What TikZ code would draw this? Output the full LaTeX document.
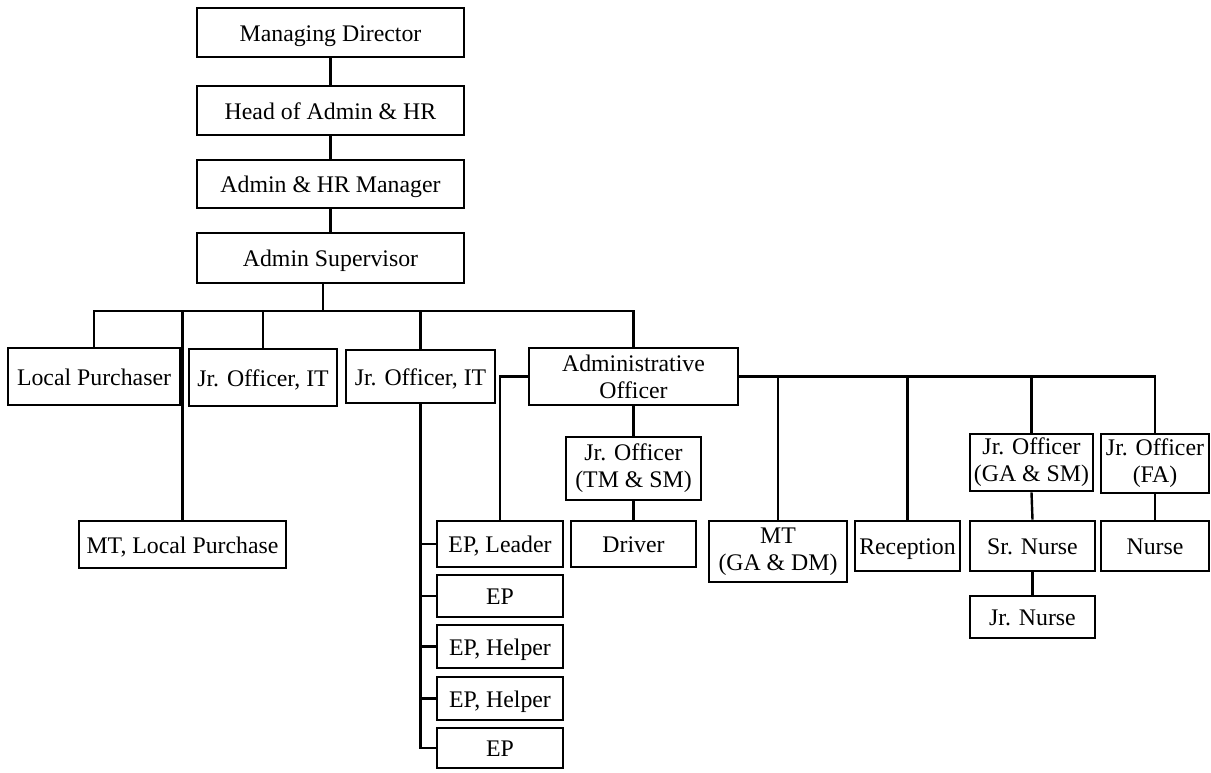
\documentclass[tikz,border=0pt]{standalone}
\usepackage{fontspec}
\setmainfont{Liberation Serif}
\begin{document}
\begin{tikzpicture}[x=1pt,y=-1pt,
  boxbase/.style={draw, line width=2.6pt, inner sep=0pt,
    font=\fontsize{23.8}{27}\selectfont},
  box/.style={boxbase, text height=19pt, text depth=2pt},
  box2/.style={boxbase, align=center},
  link/.style={line width=2.4pt}]
\useasboundingbox (0,0) rectangle (1211,772);

% top chain
\node[box, minimum width=267, minimum height=49] (md)   at (330.5,32.5) {Managing Director};
\node[box, minimum width=267, minimum height=49] (head) at (330.5,110.5) {Head of Admin \& HR};
\node[box, minimum width=267, minimum height=48] (mgr)  at (330.5,184) {Admin \& HR Manager};
\node[box, minimum width=267, minimum height=50] (sup)  at (330.5,258) {Admin Supervisor};

% second level
\node[box, minimum width=172, minimum height=57] (lp)  at (94,376.5) {Local Purchaser};
\node[box, minimum width=148, minimum height=57] (it1) at (263,377.5) {Jr. Officer, IT};
\node[box, minimum width=149, minimum height=53] (it2) at (420.5,376.5) {Jr. Officer, IT};
\node[box2, minimum width=209, minimum height=57] (ao)  at (633.5,376.5) {Administrative\\Officer};
\node[box, minimum width=207, minimum height=47] (mtlp) at (182.5,544.5) {MT, Local Purchase};

% EP column
\node[box, minimum width=126, minimum height=46] (epl)  at (500,544) {EP, Leader};
\node[box, minimum width=126, minimum height=42] (ep1)  at (500,596) {EP};
\node[box, minimum width=126, minimum height=43] (eph1) at (500,646.5) {EP, Helper};
\node[box, minimum width=126, minimum height=43] (eph2) at (500,698.5) {EP, Helper};
\node[box, minimum width=126, minimum height=40] (ep2)  at (500,748) {EP};

% administrative officer branch
\node[box2, minimum width=135, minimum height=63] (tmsm)  at (633.5,468.5) {Jr. Officer\\(TM \& SM)};
\node[box, minimum width=125, minimum height=46] (drv)   at (633.5,544) {Driver};
\node[box2, minimum width=138, minimum height=61] (mtga)  at (778,551.5) {MT\\(GA \& DM)};
\node[box, minimum width=105, minimum height=50] (rec)   at (907.5,546) {Reception};
\node[box2, minimum width=123, minimum height=57] (gasm)  at (1031.5,462.5) {Jr. Officer\\(GA \& SM)};
\node[box2, minimum width=108, minimum height=59] (fa)    at (1155,463.5) {Jr. Officer\\(FA)};
\node[box, minimum width=125, minimum height=50] (srn)   at (1032.5,546) {Sr. Nurse};
\node[box, minimum width=108, minimum height=50] (nurse) at (1155,546) {Nurse};
\node[box, minimum width=125, minimum height=42] (jrn)   at (1032.5,617) {Jr. Nurse};

% connectors
\draw[link] (md) -- (head);
\draw[link] (head) -- (mgr);
\draw[link] (mgr) -- (sup);
\coordinate (busc) at (323,311);
\draw[link] (sup.south -| busc) -- (busc);
\draw[link] (lp.north) |- (busc) -| (ao.north);
\draw[link] (it1.north) -- (it1.north |- busc);
\draw[link] (it2.north) -- (it2.north |- busc);
\draw[link] (mtlp.north) -- (mtlp.north |- busc);

\draw[link] (it2.south) -- (it2.south |- ep2.west) -- (ep2.west);
\draw[link] (it2.south |- epl.west) -- (epl.west);
\draw[link] (it2.south |- ep1.west) -- (ep1.west);
\draw[link] (it2.south |- eph1.west) -- (eph1.west);
\draw[link] (it2.south |- eph2.west) -- (eph2.west);
\draw[link] (ao.west) -| (epl.north);

\draw[link] (ao.south) -- (tmsm.north);
\draw[link] (tmsm.south) -- (drv.north);
\draw[link] (ao.east) -| (fa.north);
\draw[link] (mtga.north) -- (mtga.north |- ao.east);
\draw[link] (rec.north) -- (rec.north |- ao.east);
\draw[link] (gasm.north) -- (gasm.north |- ao.east);
\draw[link] (gasm.south) -- (srn.north);
\draw[link] (srn.south) -- (jrn.north);
\draw[link] (fa.south) -- (nurse.north);
\end{tikzpicture}
\end{document}
